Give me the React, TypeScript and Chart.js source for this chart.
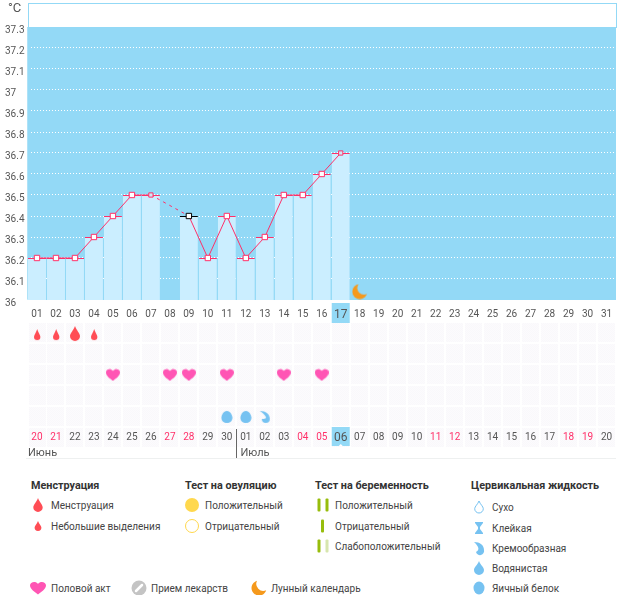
import React, { useEffect, useRef } from "react";
import { Chart, registerables } from "chart.js";

Chart.register(...registerables);

const days = ["01","02","03","04","05","06","07","08","09","10","11","12","13","14","15","16","17","18","19","20","21","22","23","24","25","26","27","28","29","30","31"];
const temps = [36.2,36.2,36.2,36.3,36.4,36.5,36.5,null,36.4,36.2,36.4,36.2,36.3,36.5,36.5,36.6,36.7,null,null,null,null,null,null,null,null,null,null,null,null,null,null];
const yTicks = ["36","36.1","36.2","36.3","36.4","36.5","36.6","36.7","36.8","36.9","37","37.1","37.2","37.3"];
const moonDays = [{ x: "18", y: 36.04 }];
const dates = ["20","21","22","23","24","25","26","27","28","29","30","01","02","03","04","05","06","07","08","09","10","11","12","13","14","15","16","17","18","19","20"];
const weekendIdx = [0,1,7,8,14,15,21,22,28,29];
const months = ["Июнь", "Июль"];
const lightFlowIdx = [0, 1, 3];
const heavyFlowIdx = [2];
const acts = [4, 7, 8, 10, 13, 15];
const eggWhite = [10, 11];
const creamy = [12];

const LEFT = 27.5, RIGHT = 616;
const BLUE = "#93d9f6", LIGHT = "#cbeeff", PINK = "#ff3069", GREY = "#555";
const FONT = 'Roboto, sans-serif';
const TICK_FONT = FONT;

function icon(w: number, h: number, draw: (c: CanvasRenderingContext2D) => void) {
  const cv = document.createElement("canvas");
  cv.width = w; cv.height = h;
  draw(cv.getContext("2d")!);
  return cv;
}
function dropPath(c: CanvasRenderingContext2D, cx: number, top: number, r: number, h: number) {
  const cy = top + h - r;
  c.beginPath();
  c.moveTo(cx, top);
  c.bezierCurveTo(cx + r * 0.3, top + h * 0.28, cx + r, cy - r * 0.5, cx + r, cy);
  c.arc(cx, cy, r, 0, Math.PI);
  c.bezierCurveTo(cx - r, cy - r * 0.5, cx - r * 0.3, top + h * 0.28, cx, top);
  c.closePath();
}
const dropIcon = (r: number, h: number, col: string) => icon(r * 2 + 2, h + 2, (c) => { c.fillStyle = col; dropPath(c, r + 1, 1, r, h); c.fill(); });
const heartIcon = () => icon(14, 13, (c) => {
  c.fillStyle = "#ff55b4";
  c.beginPath();
  c.moveTo(7, 12.5);
  c.bezierCurveTo(4, 10, 0, 7.5, 0, 4);
  c.bezierCurveTo(0, 1, 4.5, -0.5, 7, 2.5);
  c.bezierCurveTo(9.5, -0.5, 14, 1, 14, 4);
  c.bezierCurveTo(14, 7.5, 10, 10, 7, 12.5);
  c.fill();
});
const eggIcon = () => icon(12, 14, (c) => {
  c.fillStyle = "#76c2f1";
  c.beginPath();
  c.moveTo(6, 1);
  c.bezierCurveTo(9.5, 1, 11.5, 5.5, 11.5, 8);
  c.bezierCurveTo(11.5, 11, 9, 13, 6, 13);
  c.bezierCurveTo(3, 13, 0.5, 11, 0.5, 8);
  c.bezierCurveTo(0.5, 5.5, 2.5, 1, 6, 1);
  c.fill();
});
const creamyIcon = () => icon(12, 14, (c) => {
  c.fillStyle = "#76c2f1";
  c.beginPath();
  c.moveTo(1, 1);
  c.bezierCurveTo(7, 1, 11, 4, 11, 9);
  c.arc(7, 9, 4, 0, Math.PI);
  c.bezierCurveTo(4, 9, 8, 9, 7, 7);
  c.bezierCurveTo(6, 5, 4, 3, 1, 1);
  c.fill();
});
const moonIcon = () => icon(16, 16, (c) => {
  c.fillStyle = "#f5991c";
  c.beginPath();
  c.arc(8, 8, 7.5, 0, Math.PI * 2);
  c.fill();
  c.globalCompositeOperation = "destination-out";
  c.beginPath();
  c.arc(12, 4.5, 6.5, 0, Math.PI * 2);
  c.fill();
});

const legendTitles = [
  { t: "Менструация", x: 31, y: 486 },
  { t: "Тест на овуляцию", x: 185, y: 486 },
  { t: "Тест на беременность", x: 315, y: 486 },
  { t: "Цервикальная жидкость", x: 471, y: 486 },
];
const legendItems = [
  { t: "Менструация", x: 51, y: 505, k: "dropBig", ix: 38 },
  { t: "Небольшие выделения", x: 51, y: 526, k: "dropSmall", ix: 38 },
  { t: "Положительный", x: 205, y: 505, k: "ovuPos", ix: 192 },
  { t: "Отрицательный", x: 205, y: 526, k: "ovuNeg", ix: 192 },
  { t: "Положительный", x: 335, y: 505, k: "pos", ix: 322 },
  { t: "Отрицательный", x: 335, y: 526, k: "neg", ix: 322 },
  { t: "Слабоположительный", x: 335, y: 546, k: "weak", ix: 322 },
  { t: "Сухо", x: 492, y: 507, k: "dry", ix: 479 },
  { t: "Клейкая", x: 492, y: 528, k: "sticky", ix: 479 },
  { t: "Кремообразная", x: 492, y: 548, k: "creamy", ix: 479 },
  { t: "Водянистая", x: 492, y: 568, k: "watery", ix: 479 },
  { t: "Яичный белок", x: 492, y: 588, k: "egg", ix: 479 },
  { t: "Половой акт", x: 51, y: 588, k: "heart", ix: 38 },
  { t: "Прием лекарств", x: 151, y: 588, k: "pill", ix: 139 },
  { t: "Лунный календарь", x: 271, y: 588, k: "moon", ix: 259 },
];

const dropD = (h: number, r: number) => `M0 ${-h / 2}C${r * 0.3} ${-h * 0.22} ${r} ${h / 2 - r * 1.5} ${r} ${h / 2 - r}A${r} ${r} 0 0 1 ${-r} ${h / 2 - r}C${-r} ${h / 2 - r * 1.5} ${-r * 0.3} ${-h * 0.22} 0 ${-h / 2}Z`;

function LegendIcon({ k }: { k: string }) {
  const blue = "#76c2f1", red = "#ff4d55", green = "#97bd0c";
  switch (k) {
    case "dropBig": return <path d={dropD(14, 4.7)} fill={red} />;
    case "dropSmall": return <path d={dropD(10, 3.4)} fill={red} />;
    case "ovuPos": return <circle r={7} fill="#ffd84d" />;
    case "ovuNeg": return <circle r={6.5} fill="#fff" stroke="#ffd84d" />;
    case "pos": return <g fill={green}><rect x={-4.5} y={-6.5} width={3} height={13} rx={1} /><rect x={3.5} y={-6.5} width={3} height={13} rx={1} /></g>;
    case "neg": return <rect x={-1} y={-6.5} width={3} height={13} rx={1} fill={green} />;
    case "weak": return <g><rect x={-4.5} y={-6.5} width={3} height={13} rx={1} fill={green} /><rect x={3.5} y={-6.5} width={3} height={13} rx={1} fill="#d7e6ae" /></g>;
    case "dry": return <path d={dropD(12, 4.3)} fill="#fff" stroke={blue} strokeWidth={1} />;
    case "sticky": return <path d="M-4 -6H4V-5L1 -1V1L4 5V6H-4V5L-1 1V-1L-4 -5Z" fill={blue} />;
    case "creamy": return <path d="M-5 -6C1 -6 5 -3 5 2A4 4 0 0 1 -3 4C-1 3 0 1 -1 -1C-2 -3 -3 -4 -5 -6Z" fill={blue} />;
    case "watery": return <path d={dropD(14, 5)} fill={blue} />;
    case "egg": return <ellipse rx={5.5} ry={6.5} fill={blue} />;
    case "heart": return <path d="M0 6.5C-3 4 -8 1 -8 -2.5C-8 -6 -2.5 -7.5 0 -4C2.5 -7.5 8 -6 8 -2.5C8 1 3 4 0 6.5Z" fill="#ff55b4" />;
    case "pill": return <g><circle r={7.5} fill="#c4c4c4" /><path d="M-3 3L3 -3" stroke="#fff" strokeWidth={2.5} strokeLinecap="round" /></g>;
    case "moon": return <path d="M-2 -7.2A7.5 7.5 0 1 0 7.2 2.2A7 7 0 0 1 -2 -7.2Z" fill="#f5991c" />;
    default: return null;
  }
}

export default function App() {
  const topRef = useRef<HTMLCanvasElement>(null);
  const botRef = useRef<HTMLCanvasElement>(null);

  useEffect(() => {
    const top = new Chart(topRef.current!, {
      type: "bar",
      data: {
        labels: days,
        datasets: [
          {
            type: "line",
            data: moonDays as any,
            showLine: false,
            pointStyle: moonIcon() as any,
            pointRadius: 8,
            order: 0,
          },
          {
            type: "line",
            data: temps,
            spanGaps: true,
            borderColor: PINK,
            borderWidth: 1,
            tension: 0,
            pointStyle: "rect",
            pointRadius: (c: any) => (c.dataIndex === 6 || c.dataIndex === 16 ? 3 : 3.8),
            pointBorderWidth: 1,
            pointBackgroundColor: (c: any) => (c.dataIndex === 6 || c.dataIndex === 16 ? "#cfe8f5" : "#fff"),
            pointBorderColor: (c: any) => (c.dataIndex === 8 ? "#000" : PINK),
            segment: { borderDash: (c: any) => (c.p0.skip || c.p1.skip ? [3, 4] : undefined) },
            order: 1,
          },
          {
            type: "bar",
            data: temps,
            backgroundColor: LIGHT,
            borderColor: (c: any) => (c.dataIndex === 8 ? "#000" : PINK),
            borderWidth: { top: 1, left: 0, right: 0, bottom: 0 },
            borderSkipped: false,
            barPercentage: 0.95,
            categoryPercentage: 1,
            order: 2,
          },
        ] as any,
      },
      options: {
        animation: false,
        responsive: false,
        layout: { autoPadding: false, padding: { left: 5, right: 626 - RIGHT, top: 27, bottom: 0 } },
        plugins: { legend: { display: false }, tooltip: { enabled: false } },
        scales: {
          x: {
            grid: { display: false, drawTicks: false },
            border: { display: false },
            afterFit: (s: any) => { s.height = 25; },
            ticks: {
              autoSkip: false, maxRotation: 0, minRotation: 0, padding: 8,
              color: GREY,
              font: (c: any) => ({ family: TICK_FONT, size: c.index === 16 ? 12 : 10 }),
            },
          },
          y: {
            min: 36, max: 37.3,
            grid: {
              color: (c: any) => (c.tick.value > 37.25 ? "transparent" : "#fff"),
              drawTicks: false,
              lineWidth: 1,
            },
            border: { display: false, dash: [1, 2] },
            afterFit: (s: any) => { s.width = LEFT - 5; },
            afterBuildTicks: (s: any) => { s.ticks = yTicks.map((v) => ({ value: Number(v) })); },
            ticks: {
              autoSkip: false, crossAlign: "far", padding: 0, labelOffset: 3,
              color: GREY,
              font: { family: TICK_FONT, size: 10 },
              callback: (v: any) => String(Number(Number(v).toFixed(1))),
            },
          },
        },
      },
      plugins: [
        {
          id: "frame",
          beforeDraw(ch: any) {
            const { ctx, chartArea: a } = ch;
            ctx.save();
            ctx.fillStyle = BLUE;
            ctx.fillRect(a.left, a.top, a.width, a.height);
            ctx.strokeStyle = BLUE;
            ctx.strokeRect(Math.round(a.left) + 0.5, 3.5, RIGHT - Math.round(a.left), 24);
            const px = ch.scales.x.getPixelForValue(16);
            ctx.fillRect(px - 9, 303, 18, 20);
            ctx.fillStyle = GREY;
            ctx.font = `13px ${FONT}`;
            ctx.fillText("°C", 8, 12);
            ctx.restore();
          },
          beforeDatasetsDraw(ch: any) {
            const { ctx, chartArea: a } = ch;
            ctx.save();
            ctx.fillStyle = BLUE;
            ctx.fillRect(a.left, a.top, 3.5, a.height - 1);
            ctx.restore();
          },
        },
      ] as any,
    });

    const markers = (data: any[], img: any, r = 8) => ({
      type: "line",
      data,
      showLine: false,
      pointStyle: img,
      pointRadius: r,
      clip: false,
    });
    const bot = new Chart(botRef.current!, {
      type: "line",
      data: {
        labels: dates.map((_, i) => String(i)),
        datasets: [
          markers(lightFlowIdx.map((i) => ({ x: String(i), y: 0.6 })), dropIcon(3.2, 11, "#ff4d55")),
          markers(heavyFlowIdx.map((i) => ({ x: String(i), y: 0.55 })), dropIcon(5, 15, "#ff4d55")),
          markers(acts.map((i) => ({ x: String(i), y: 2.52 })), heartIcon()),
          markers(eggWhite.map((i) => ({ x: String(i), y: 4.52 })), eggIcon()),
          markers(creamy.map((i) => ({ x: String(i), y: 4.52 })), creamyIcon()),
        ] as any,
      },
      options: {
        animation: false,
        responsive: false,
        layout: { autoPadding: false, padding: { left: LEFT, right: 626 - RIGHT, top: 0, bottom: 25 } },
        plugins: { legend: { display: false }, tooltip: { enabled: false } },
        scales: {
          x: {
            offset: true,
            grid: { display: false, drawTicks: false },
            border: { display: false },
            afterFit: (s: any) => { s.height = 20; },
            ticks: {
              autoSkip: false, maxRotation: 0, minRotation: 0, padding: 4,
              color: (c: any) => (weekendIdx.includes(c.index) ? PINK : GREY),
              font: (c: any) => ({ family: TICK_FONT, size: c.index === 16 ? 12 : 10 }),
              callback: (_: any, i: number) => dates[i],
            },
          },
          y: { display: false, min: 0, max: 5, reverse: true },
        },
      },
      plugins: [
        {
          id: "cells",
          beforeDraw(ch: any) {
            const { ctx, chartArea: a, scales } = ch;
            const sw = a.width / dates.length;
            const pat = ctx.createPattern(icon(2, 2, (c) => {
              c.fillStyle = "#fcfbfd"; c.fillRect(0, 0, 2, 2);
              c.fillStyle = "#f9f8fb"; c.fillRect(0, 0, 1, 1); c.fillRect(1, 1, 1, 1);
            }), "repeat");
            ctx.save();
            ctx.fillStyle = pat;
            for (let r = 0; r < 6; r++) {
              for (let i = 0; i < dates.length; i++) {
                ctx.fillRect(Math.round(a.left + i * sw) + 1, a.top + r * 21 + 1, Math.round(sw) - 2, 19);
              }
            }
            const px = scales.x.getPixelForValue(16);
            ctx.fillStyle = BLUE;
            ctx.fillRect(px - 9, a.bottom, 18, 19);
            ctx.fillStyle = "#fff";
            ctx.beginPath();
            ctx.moveTo(px - 2, a.bottom + 19); ctx.lineTo(px + 2, a.bottom + 19); ctx.lineTo(px, a.bottom + 17); ctx.fill();
            ctx.restore();
          },
          afterDraw(ch: any) {
            const { ctx, chartArea: a, scales } = ch;
            const sep = Math.round((scales.x.getPixelForValue(10) + scales.x.getPixelForValue(11)) / 2) + 0.5;
            ctx.save();
            ctx.strokeStyle = "#666";
            ctx.beginPath();
            ctx.moveTo(sep, a.bottom + 2); ctx.lineTo(sep, a.bottom + 31); ctx.stroke();
            ctx.strokeStyle = "#eef0f0";
            ctx.beginPath();
            ctx.moveTo(26, a.bottom + 31.5); ctx.lineTo(RIGHT, a.bottom + 31.5); ctx.stroke();
            ctx.fillStyle = GREY;
            ctx.font = `11px ${FONT}`;
            ctx.textBaseline = "middle";
            ctx.fillText(months[0], 28, a.bottom + 26);
            ctx.fillText(months[1], sep + 4, a.bottom + 26);
            ctx.restore();
          },
        },
      ] as any,
    });
    return () => { top.destroy(); bot.destroy(); };
  }, []);

  const label: React.CSSProperties = { position: "absolute", fontFamily: FONT, fontSize: 10, lineHeight: "14px", whiteSpace: "nowrap", transform: "translateY(-50%)", color: "#444" };
  return (
    <div style={{ position: "absolute", left: 0, top: 0, width: 626, height: 595, overflow: "hidden", background: "#fff" }}>
      <canvas ref={topRef} width={626} height={325} style={{ position: "absolute", left: 0, top: 0, width: 626, height: 325 }} />
      <canvas ref={botRef} width={626} height={150} style={{ position: "absolute", left: 0, top: 322, width: 626, height: 150 }} />
      {legendTitles.map((l) => (
        <div key={l.t} style={{ ...label, left: l.x, top: l.y, fontWeight: 700, fontSize: 10.8, color: "#333" }}>{l.t}</div>
      ))}
      {legendItems.map((l) => (
        <React.Fragment key={l.t + l.x}>
          <svg width={20} height={20} viewBox="-10 -10 20 20" style={{ position: "absolute", left: l.ix - 10, top: l.y - 10 }}><LegendIcon k={l.k} /></svg>
          <div style={{ ...label, left: l.x, top: l.y + 0.5 }}>{l.t}</div>
        </React.Fragment>
      ))}
    </div>
  );
}
